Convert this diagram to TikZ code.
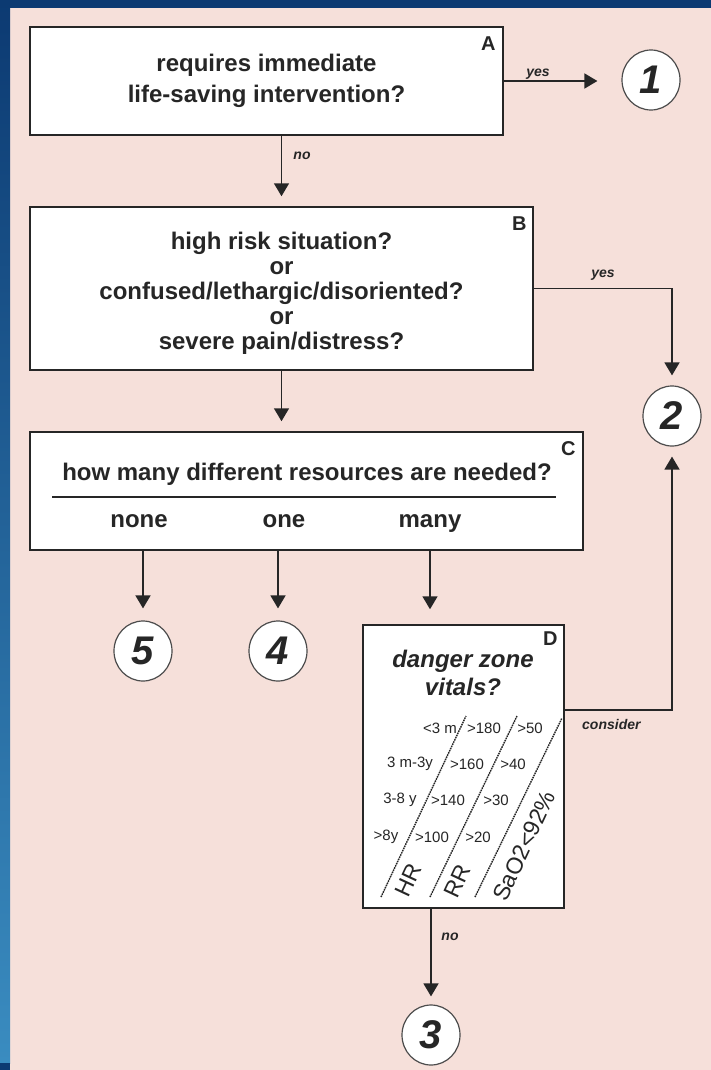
\documentclass[tikz,border=0pt]{standalone}
\usepackage{fontspec}
\setmainfont{Liberation Sans}
\usetikzlibrary{arrows.meta,shapes.geometric,positioning,calc}
\definecolor{bgpink}{HTML}{F6E0DA}
\definecolor{navy}{HTML}{0C3A72}
\definecolor{skyblue}{HTML}{3A8CC0}
\definecolor{ink}{HTML}{262626}
\tikzset{
	qbox/.style={draw=ink, line width=1.5pt, fill=white, inner sep=0pt, align=center,
		font=\fontsize{24}{31}\selectfont\bfseries, text=ink},
	qtext/.style={inner sep=0pt, anchor=base, font=\fontsize{24}{25}\selectfont\bfseries, text=ink},
	tag/.style={anchor=north east, inner sep=0pt, font=\fontsize{20}{20}\selectfont\bfseries, text=ink},
	outcome/.style={ellipse, draw=black!70, line width=1.2pt, fill=white, minimum width=58pt,
		minimum height=60pt, inner sep=0pt, font=\fontsize{40}{40}\selectfont\bfseries\itshape, text=ink},
	flow/.style={draw=ink, line width=1.6pt, -{Triangle[length=13pt,width=15pt]}, shorten >=10pt},
	edgelbl/.style={inner sep=0pt, font=\fontsize{14}{14}\selectfont\bfseries\itshape, text=ink},
	vital/.style={inner sep=0pt, font=\fontsize{15}{15}\selectfont, text=ink},
	vsign/.style={inner sep=0pt, font=\fontsize{23}{23}\selectfont, text=ink, rotate=65},
	zone/.style={draw=ink, line width=1.4pt, dash pattern=on 1.6pt off 0.8pt},
}
\def\outcome(#1,#2)#3#4{\node[outcome] (#3) at (#1,#2) {#4};}

\begin{document}
\begin{tikzpicture}[x=1pt,y=-1pt]
	%%%%% START %%%%%
	
	\useasboundingbox (0,0) rectangle (711,1070);
	\fill[bgpink] (0,0) rectangle (711,1070);
	\shade[top color=navy, bottom color=skyblue] (0,0) rectangle (10,1063);
	\fill[navy] (0,1063) rectangle (10,1070);
	\fill[navy] (0,0) rectangle (711,8);
	
	% questions
	\node[qbox, minimum width=473pt, minimum height=108pt] (boxA) at (266.5,81)
		{requires immediate\\life-saving intervention?};
	\node[tag] (tagA) at ([xshift=-8pt,yshift=-10pt]boxA.north east) {A};
	
	\node[qbox, minimum width=503pt, minimum height=163pt] (boxB) at (281.5,288.5) {};
	\node[tag] (tagB) at ([xshift=-7pt,yshift=-10pt]boxB.north east) {B};
	\node[qtext, anchor=center, align=center] (qB) at (281.5,293.5)
		{high risk situation?\\or\\confused/lethargic/disoriented?\\or\\severe pain/distress?};
	
	\node[qbox, minimum width=553pt, minimum height=118pt] (boxC) at (306.5,491) {};
	\node[tag] (tagC) at ([xshift=-8pt,yshift=-10pt]boxC.north east) {C};
	\node[qtext] (qC) at (307,480) {how many different resources are needed?};
	\draw[ink, line width=1.5pt] (52,497) -- (556,497);
	\node[qtext] (optNone) at (139,527) {none};
	\node[qtext] (optOne) at (284,527) {one};
	\node[qtext] (optMany) at (430,527) {many};
	
	\node[qbox, minimum width=201pt, minimum height=283pt] (boxD) at (463.5,766.5) {};
	\node[tag] (tagD) at ([xshift=-7pt,yshift=-7pt]boxD.north east) {D};
	\node[qtext, font=\fontsize{24}{28}\selectfont\bfseries\itshape, align=center] (qD) at (463,695)
		{danger zone\\vitals?};
	
	% vitals table
	\node[vital] (age1) at (440,728) {<3 m};
	\node[vital] (hr1) at (484,728) {>180};
	\node[vital] (rr1) at (530,728) {>50};
	\node[vital] (age2) at (410,764) {3 m-3y};
	\node[vital] (hr2) at (467,764) {>160};
	\node[vital] (rr2) at (513,764) {>40};
	\node[vital] (age3) at (400,800) {3-8 y};
	\node[vital] (hr3) at (448,800) {>140};
	\node[vital] (rr3) at (496,800) {>30};
	\node[vital] (age4) at (386,837) {>8y};
	\node[vital] (hr4) at (432,837) {>100};
	\node[vital] (rr4) at (478,837) {>20};
	\draw[zone] (381,897) -- (466,716);
	\draw[zone] (430,897) -- (517,716);
	\draw[zone] (475,897) -- (562,718);
	\node[vsign] (sHR) at (408,880) {HR};
	\node[vsign] (sRR) at (457,881) {RR};
	\node[vsign] (sSat) at (524,846) {SaO2<92\%};
	
	% outcomes
	\outcome(651,80){circ1}{1}
	\outcome(672,416){circ2}{2}
	\outcome(431,1035){circ3}{3}
	\outcome(278,651){circ4}{4}
	\outcome(143,651){circ5}{5}
	
	% connectors
	\draw[flow, shorten >=24pt] (boxA.east) -- (boxA.east -| circ1.west);
	\node[edgelbl] (yesA) at (538,74) {yes};
	\draw[flow] (boxA.south -| boxB.north) -- (boxB.north);
	\node[edgelbl] (noA) at (302,156) {no};
	\draw[flow] (boxB.east) -| (circ2.north);
	\node[edgelbl] (yesB) at (603,275) {yes};
	\draw[flow] (boxB.south) -- (boxB.south |- boxC.north);
	
	\draw[flow, shorten >=12pt] (boxC.south -| circ5) -- (circ5.north);
	\draw[flow, shorten >=12pt] (boxC.south -| circ4) -- (circ4.north);
	\draw[flow, shorten >=15pt] (boxC.south -| optMany) -- (optMany |- boxD.north);
	
	\coordinate (dOut) at ([yshift=-86pt]boxD.north east);
	\draw[flow] (dOut) -| (circ2.south);
	\node[edgelbl, anchor=west] (consD) at (582,724) {consider};
	\draw[flow, shorten >=8pt] (boxD.south -| circ3) -- (circ3.north);
	\node[edgelbl] (noD) at (450,937) {no};
	
	%%%%% END %%%%%
\end{tikzpicture}
\end{document}
